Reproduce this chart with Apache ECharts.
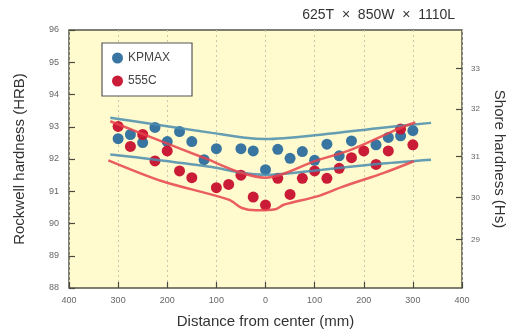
<!DOCTYPE html>
<html>
<head>
<meta charset="utf-8">
<script src="https://cdn.jsdelivr.net/npm/echarts@6/dist/echarts.min.js"></script>
<style>
  html, body { margin: 0; padding: 0; background: #fff; }
  #chart { width: 516px; height: 336px; }
</style>
</head>
<body>
<div id="chart"></div>
<script>
// KPMAX measurements: distance (mm) / Rockwell HRB
const kpmaxX = [-300, -275, -250, -225, -200, -175, -150, -125, -100, -50, -25, 0, 25, 50, 75, 100, 125, 150, 175, 225, 250, 275, 300];
const kpmaxY = [92.63, 92.76, 92.51, 92.98, 92.54, 92.85, 92.54, 91.98, 92.32, 92.32, 92.25, 91.67, 92.30, 92.02, 92.23, 91.96, 92.46, 92.10, 92.56, 92.44, 92.67, 92.72, 92.88];

// 555C measurements
const c555X = [-300, -275, -250, -225, -200, -175, -150, -100, -75, -50, -25, 0, 25, 50, 75, 100, 125, 150, 175, 200, 225, 250, 275, 300];
const c555Y = [93.01, 92.39, 92.76, 91.94, 92.25, 91.63, 91.42, 91.11, 91.21, 91.50, 90.82, 90.57, 91.40, 90.90, 91.40, 91.63, 91.40, 91.71, 92.04, 92.25, 91.83, 92.25, 92.93, 92.44];

// envelope bands
const kpUpperX = [-316, -224, -109, -41, 0, 116, 238, 337];
const kpUpperY = [93.28, 93.07, 92.81, 92.66, 92.62, 92.76, 92.97, 93.12];
const kpLowerX = [-316, -224, -109, -51, 0, 116, 238, 337];
const kpLowerY = [92.14, 91.98, 91.75, 91.58, 91.51, 91.67, 91.86, 91.98];
const cUpperX = [-316, -214, -126, -51, 0, 102, 176, 277, 305];
const cUpperY = [93.17, 92.56, 92.04, 91.58, 91.42, 91.94, 92.30, 92.98, 93.13];
const cLowerX = [-320, -210, -75, -48, -20, 20, 37, 105, 159, 241, 302];
const cLowerY = [91.96, 91.31, 90.74, 90.48, 90.41, 90.44, 90.58, 90.84, 91.15, 91.57, 91.93];

// Shore hardness scale against HRB
const shoreLabels = [29, 30, 31, 32, 33];
const shoreAtHRB = [89.5, 90.8, 92.07, 93.55, 94.8];

const blue = '#2e6e9e';
const red = '#c8102e';
const blueLine = '#4a8cae';
const redLine = '#e8424c';

function pairs(xs, ys) {
  return xs.map((x, i) => [x, ys[i]]);
}

const myChart = echarts.init(document.getElementById('chart'));

const lineBase = {
  type: 'line',
  symbol: 'none',
  smooth: 0.3,
  z: 3,
  silent: true,
};

const tickStyle = { color: '#4a4a40', width: 1.2 };

const option = {
  animation: false,
  textStyle: { fontFamily: 'Liberation Sans, Arial, sans-serif' },
  title: {
    text: '625T  ×  850W  ×  1110L',
    right: 56,
    top: 3,
    textStyle: { fontSize: 14, fontWeight: 'normal', color: '#333' },
  },
  legend: {
    orient: 'vertical',
    left: 102,
    top: 43,
    padding: [9, 22, 9, 10],
    itemGap: 11,
    backgroundColor: '#ffffff',
    borderColor: '#555',
    borderWidth: 1.2,
    borderRadius: 0,
    itemWidth: 11,
    itemHeight: 11,
    textStyle: { fontSize: 12, color: '#444' },
    data: [
      { name: 'KPMAX', icon: 'circle' },
      { name: '555C', icon: 'circle' },
    ],
  },
  grid: {
    left: 69,
    right: 54,
    top: 30,
    bottom: 48,
    show: true,
    backgroundColor: '#fffbcf',
    borderColor: '#55554a',
    borderWidth: 1.5,
  },
  xAxis: {
    type: 'value',
    min: -400,
    max: 400,
    interval: 100,
    name: 'Distance from center (mm)',
    nameLocation: 'middle',
    nameGap: 26,
    nameTextStyle: { fontSize: 15, color: '#333' },
    axisLine: { show: false, onZero: false },
    axisTick: { show: true, inside: true, length: 6, lineStyle: tickStyle },
    axisLabel: {
      fontSize: 9,
      color: '#666',
      margin: 8,
      formatter: (v) => String(Math.abs(v)),
    },
    splitLine: {
      show: true,
      lineStyle: { color: '#c8c8b0', type: [2, 3], width: 1 },
    },
  },
  yAxis: [
    {
      type: 'value',
      min: 88,
      max: 96,
      interval: 1,
      name: 'Rockwell hardness (HRB)',
      nameLocation: 'middle',
      nameGap: 42,
      nameTextStyle: { fontSize: 15, color: '#333' },
      axisLine: { show: false, onZero: false },
      axisTick: { show: true, inside: true, length: 6, lineStyle: tickStyle },
      axisLabel: { fontSize: 9, color: '#666', margin: 10 },
      splitLine: { show: false },
    },
    {
      type: 'value',
      min: 88,
      max: 96,
      position: 'right',
      name: 'Shore hardness (Hs)',
      nameLocation: 'middle',
      nameGap: 30,
      nameRotate: -90,
      nameTextStyle: { fontSize: 15, color: '#333' },
      axisLine: { show: false, onZero: false },
      axisTick: {
        inside: true,
        length: 6,
        customValues: shoreAtHRB,
        lineStyle: tickStyle,
      },
      axisLabel: {
        fontSize: 8,
        color: '#666',
        margin: 9,
        customValues: shoreAtHRB,
        formatter: (v) => {
          const i = shoreAtHRB.findIndex((h) => Math.abs(h - v) < 1e-6);
          return i >= 0 ? String(shoreLabels[i]) : '';
        },
      },
      splitLine: { show: false },
    },
  ],
  series: [
    {
      name: 'KPMAX',
      type: 'scatter',
      symbolSize: 11,
      itemStyle: { color: blue, opacity: 0.95 },
      data: pairs(kpmaxX, kpmaxY),
      z: 2,
    },
    {
      name: '555C',
      type: 'scatter',
      symbolSize: 11,
      itemStyle: { color: red, opacity: 0.95 },
      data: pairs(c555X, c555Y),
      z: 2,
    },
    Object.assign({}, lineBase, {
      name: 'kpUpper',
      data: pairs(kpUpperX, kpUpperY),
      lineStyle: { color: blueLine, width: 2.5, opacity: 0.85 },
    }),
    Object.assign({}, lineBase, {
      name: 'kpLower',
      data: pairs(kpLowerX, kpLowerY),
      lineStyle: { color: blueLine, width: 2.5, opacity: 0.85 },
    }),
    Object.assign({}, lineBase, {
      name: 'cUpper',
      data: pairs(cUpperX, cUpperY),
      lineStyle: { color: redLine, width: 2.5, opacity: 0.85 },
    }),
    Object.assign({}, lineBase, {
      name: 'cLower',
      data: pairs(cLowerX, cLowerY),
      lineStyle: { color: redLine, width: 2.5, opacity: 0.85 },
    }),
  ],
};

option && myChart.setOption(option);
</script>
</body>
</html>
